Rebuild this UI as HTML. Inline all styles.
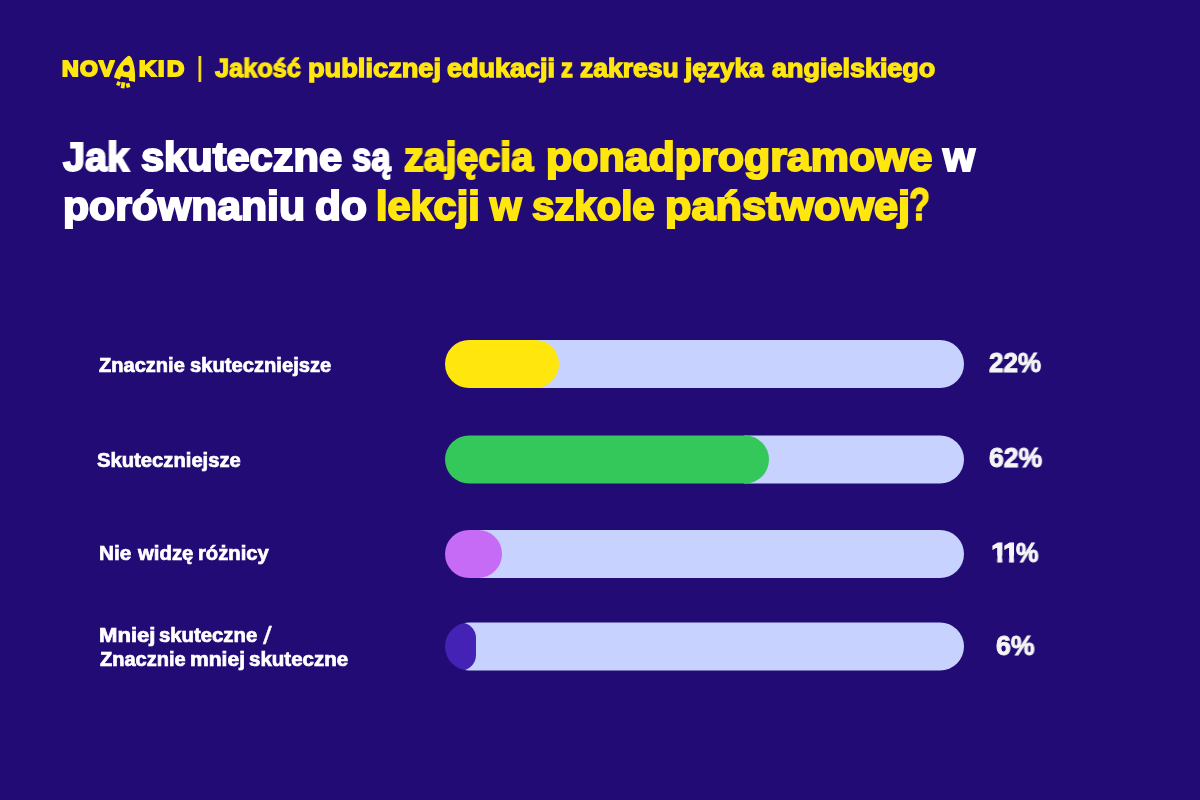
<!DOCTYPE html>
<html lang="pl">
<head>
<meta charset="utf-8">
<title>Novakid – Jakość publicznej edukacji z zakresu języka angielskiego</title>
<style>
html,body{margin:0;padding:0;}
body{width:1200px;height:800px;overflow:hidden;background:#220b75;font-family:"Liberation Sans", sans-serif;font-weight:700;}
.page{position:relative;width:1200px;height:800px;background:#220b75;overflow:hidden;}
.t{position:absolute;display:block;white-space:pre;line-height:1;transform-origin:0 0;margin:0;padding:0;font-weight:700;paint-order:stroke fill;stroke-linejoin:round;-webkit-font-smoothing:antialiased;will-change:transform;}
h1,h2,p{margin:0;padding:0;font-size:inherit;font-weight:inherit;}
.ttl{font-size:40px;-webkit-text-stroke:2.0px currentColor;}
.sub{font-size:25.6px;-webkit-text-stroke:1.3px currentColor;}
.lab{font-size:20px;-webkit-text-stroke:0.7px currentColor;}
.pct{font-size:27px;-webkit-text-stroke:1.0px currentColor;}
.lg{font-size:22.7px;-webkit-text-stroke:2.0px currentColor;}
.sep{font-size:26.8px;-webkit-text-stroke:0px currentColor;}
.q{font-size:46px;-webkit-text-stroke:1.5px currentColor;}
.one{font-size:27px;-webkit-text-stroke:1.0px currentColor;clip-path:polygon(-2px -2px,20px -2px,20px 15.5px,10.5px 15.5px,10.5px 30px,5.78px 30px,5.78px 15.5px,-2px 15.5px);}
.sl{font-size:24.4px;-webkit-text-stroke:0.3px currentColor;font-weight:400;}

.logo{position:absolute;left:0;top:0;}
.rk{position:absolute;left:106px;top:50px;overflow:visible;}
.rkA{font-family:"Liberation Sans", sans-serif;font-weight:700;font-size:22px;}
.track{position:absolute;left:445px;width:519px;height:48px;border-radius:24px;}
.rail{position:absolute;top:0;bottom:0;right:0;background:#c7d2fe;border-radius:0 24px 24px 0;}
.fill{position:absolute;left:0;top:0;height:100%;border-radius:24px;}
.track.clip{overflow:hidden;}
.track.clip .rail{top:-2px;bottom:-2px;border-radius:0;}
</style>
</head>
<body>
<div class="page">
  <div class="hdr">
    <span class="logo"><b class="t lg" style="left:61.69px;top:57px;color:#ffe60d;transform:scaleX(1.0194)">N</b><b class="t lg" style="left:79.80px;top:57px;color:#ffe60d;transform:scaleX(1.0085)">O</b><b class="t lg" style="left:98.70px;top:57px;color:#ffe60d;transform:scaleX(1.0000)">V</b><svg class="rk" width="40" height="44" viewBox="106 50 40 44"><text class="rkA" x="0" y="0" transform="translate(115.6 76.9) rotate(12.2) scale(1.2 1.42)" fill="#ffe60d">A</text><path d="M127.2 56.4 Q129.4 54.6 131.1 57.3 C134.0 62.3 135.8 73.0 134.9 81.9 L128.9 80.7 L129.0 77.8 L120.9 76.2 L119.8 79.4 L114.0 77.4 C115.4 70.5 120.2 62.0 127.2 56.4 Z" fill="#ffe60d"/><circle cx="126.4" cy="68.4" r="3.4" fill="#220b75"/><rect x="-1.8" y="-2.0" width="3.6" height="4.0" transform="translate(118.5 83.6) rotate(25)" fill="#ffe60d"/><rect x="-1.9" y="-3.0" width="3.8" height="6.0" transform="translate(123.0 85.2) rotate(8)" fill="#ffe60d"/><rect x="-1.9" y="-2.2" width="3.8" height="4.4" transform="translate(128.0 85.3) rotate(-15)" fill="#ffe60d"/></svg><b class="t lg" style="left:139.08px;top:57px;color:#ffe60d;transform:scaleX(1.0400)">K</b><b class="t lg" style="left:158.20px;top:57px;color:#ffe60d;transform:scaleX(1.0095)">I</b><b class="t lg" style="left:167.22px;top:57px;color:#ffe60d;transform:scaleX(1.0531)">D</b></span>
    <span class="t sep" style="left:196.71px;top:54px;color:#ffe60d;transform:scaleX(0.7429)">|</span>
    <p class="subtitle"><span class="t sub" style="left:214.95px;top:56px;color:#ffe60d;transform:scaleX(0.9897)">Jakość</span> <span class="t sub" style="left:307.74px;top:56px;color:#ffe60d;transform:scaleX(1.0634)">publicznej</span> <span class="t sub" style="left:446.74px;top:56px;color:#ffe60d;transform:scaleX(1.0554)">edukacji</span> <span class="t sub" style="left:561.27px;top:56px;color:#ffe60d;transform:scaleX(0.9306)">z</span> <span class="t sub" style="left:579.74px;top:56px;color:#ffe60d;transform:scaleX(1.0346)">zakresu</span> <span class="t sub" style="left:685.02px;top:56px;color:#ffe60d;transform:scaleX(1.0210)">języka</span> <span class="t sub" style="left:772.00px;top:56px;color:#ffe60d;transform:scaleX(1.0533)">angielskiego</span></p>
  </div>
  <h1>
    <span class="t ttl" style="left:62.59px;top:137px;color:#ffffff;transform:scaleX(0.9899)">Jak</span> <span class="t ttl" style="left:140.74px;top:137px;color:#ffffff;transform:scaleX(1.0394)">skuteczne</span> <span class="t ttl" style="left:352.28px;top:137px;color:#ffffff;transform:scaleX(0.8681)">są</span> <span class="t ttl" style="left:404.31px;top:137px;color:#ffe60d;transform:scaleX(0.9841)">zajęcia</span> <span class="t ttl" style="left:546.39px;top:137px;color:#ffe60d;transform:scaleX(1.0733)">ponadprogramowe</span> <span class="t ttl" style="left:943.49px;top:137px;color:#ffffff;transform:scaleX(1.0281)">w</span>
    <span class="t ttl" style="left:62.60px;top:186px;color:#ffffff;transform:scaleX(1.0680)">porównaniu</span> <span class="t ttl" style="left:314.60px;top:186px;color:#ffffff;transform:scaleX(1.0611)">do</span> <span class="t ttl" style="left:376.09px;top:186px;color:#ffe60d;transform:scaleX(1.0363)">lekcji</span> <span class="t ttl" style="left:490.01px;top:186px;color:#ffe60d;transform:scaleX(1.0119)">w</span> <span class="t ttl" style="left:532.25px;top:186px;color:#ffe60d;transform:scaleX(1.0029)">szkole</span> <span class="t ttl" style="left:664.63px;top:186px;color:#ffe60d;transform:scaleX(1.0812)">państwowej</span><span class="t q" style="left:909.06px;top:181px;color:#ffe60d;transform:scaleX(0.7500)">?</span>
  </h1>
  <div class="row">
    <div class="label"><span class="t lab" style="left:99.45px;top:355px;color:#ffffff;transform:scaleX(1.0024)">Znacznie</span> <span class="t lab" style="left:190.25px;top:355px;color:#ffffff;transform:scaleX(1.0090)">skuteczniejsze</span></div>
    <div class="track" style="top:340px"><div class="rail" style="left:90px"></div><div class="fill" style="width:22%;background:#ffe60d"></div></div>
    <span class="t pct" style="left:989.32px;top:350px;color:#f5f5f5;transform:scaleX(0.9634)">22%</span>
  </div>
  <div class="row">
    <div class="label"><span class="t lab" style="left:97.45px;top:450px;color:#ffffff;transform:scaleX(1.0109)">Skuteczniejsze</span></div>
    <div class="track" style="top:435px;transform:translateY(0.5px)"><div class="rail" style="left:299px"></div><div class="fill" style="width:62.4%;background:#34c759"></div></div>
    <span class="t pct" style="left:988.81px;top:445px;color:#f5f5f5;transform:scaleX(0.9840)">62%</span>
  </div>
  <div class="row">
    <div class="label"><span class="t lab" style="left:98.86px;top:543px;color:#ffffff;transform:scaleX(1.0387)">Nie</span> <span class="t lab" style="left:137.61px;top:543px;color:#ffffff;transform:scaleX(1.0165)">widzę</span> <span class="t lab" style="left:198.19px;top:543px;color:#ffffff;transform:scaleX(1.0108)">różnicy</span></div>
    <div class="track" style="top:530px"><div class="rail" style="left:33px"></div><div class="fill" style="width:11%;background:#c56bf5"></div></div>
    <span class="pctgrp"><span class="t one" style="left:990.65px;top:540px;color:#f5f5f5;transform:scaleX(1.0811)">1</span><span class="t one" style="left:1002.69px;top:540px;color:#f5f5f5;transform:scaleX(1.0486)">1</span><span class="t pct" style="left:1015.77px;top:540px;color:#f5f5f5;transform:scaleX(0.9362)">%</span></span>
  </div>
  <div class="row">
    <div class="label"><span class="t lab" style="left:98.64px;top:625px;color:#ffffff;transform:scaleX(1.1051)">Mniej</span> <span class="t lab" style="left:158.85px;top:625px;color:#ffffff;transform:scaleX(1.0156)">skuteczne</span> <span class="t sl" style="left:262.57px;top:624px;color:#ffffff;transform:scaleX(1.2897)">/</span><br>
      <span class="t lab" style="left:99.75px;top:649px;color:#ffffff;transform:scaleX(1.0012)">Znacznie</span> <span class="t lab" style="left:189.95px;top:649px;color:#ffffff;transform:scaleX(1.0527)">mniej</span> <span class="t lab" style="left:248.84px;top:649px;color:#ffffff;transform:scaleX(1.0250)">skuteczne</span></div>
    <div class="track clip" style="top:622px;transform:translateY(0.5px)"><div class="rail" style="left:19px"></div><div class="fill" style="width:6%;background:#4422b5"></div></div>
    <span class="t pct" style="left:996.21px;top:633px;color:#f5f5f5;transform:scaleX(0.9882)">6%</span>
  </div>
</div>
</body>
</html>
